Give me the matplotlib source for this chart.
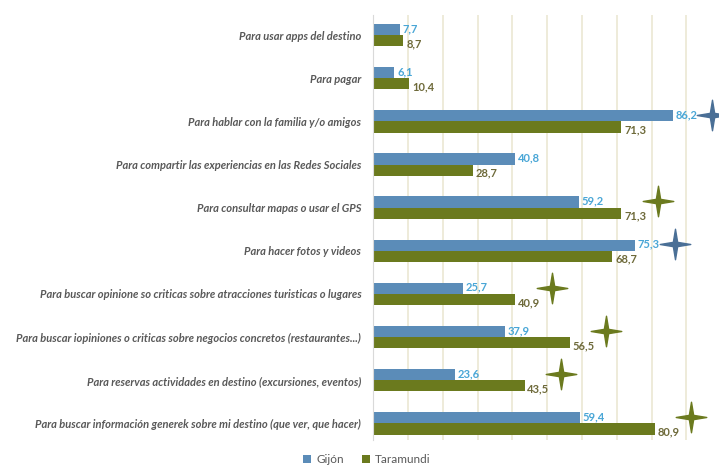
import matplotlib.pyplot as plt
from matplotlib.path import Path
import numpy as np

plt.rcParams["font.family"] = ["Lato", "DejaVu Sans"]

categorias = [
    "Para usar apps del destino",
    "Para pagar",
    "Para hablar con la familia y/o amigos",
    "Para compartir las experiencias en las Redes Sociales",
    "Para consultar mapas o usar el GPS",
    "Para hacer fotos y videos",
    "Para buscar opinione so criticas sobre atracciones turisticas o lugares",
    "Para buscar iopiniones o criticas sobre negocios concretos (restaurantes...)",
    "Para reservas actividades en destino (excursiones, eventos)",
    "Para buscar información generek sobre mi destino (que ver, que hacer)",
]
gijon = [7.7, 6.1, 86.2, 40.8, 59.2, 75.3, 25.7, 37.9, 23.6, 59.4]
taramundi = [8.7, 10.4, 71.3, 28.7, 71.3, 68.7, 40.9, 56.5, 43.5, 80.9]
# estrella: 'g' = Gijón, 't' = Taramundi, None = sin estrella
estrella = [None, None, "g", None, "t", "g", "t", "t", "t", "t"]

c_gij = "#5b8cb8"
c_tar = "#6b7a1e"

# marcador estrella de 4 puntas
ang = np.linspace(0, 2 * np.pi, 9)[:-1] + np.pi / 2
rad = np.array([1, 0.2] * 4)
verts = np.column_stack([rad * np.cos(ang), rad * np.sin(ang)])
verts = np.vstack([verts, verts[0]])
star = Path(verts, [Path.MOVETO] + [Path.LINETO] * 7 + [Path.CLOSEPOLY])

fig = plt.figure(figsize=(7.19, 4.76), dpi=100)
ax = fig.add_axes([0.519, 0.076, 0.484, 0.892])

y = np.arange(len(categorias))
h = 0.26
ax.barh(y - h / 2, gijon, height=h, color=c_gij, label="Gijón", zorder=2)
ax.barh(y + h / 2, taramundi, height=h, color=c_tar, label="Taramundi", zorder=2)

for i in range(len(categorias)):
    ax.text(gijon[i] + 0.8, y[i] - h * 0.6, f"{gijon[i]:.1f}".replace(".", ","),
            color="#49a6d6", fontsize=8, fontweight="bold", va="center", ha="left")
    ax.text(taramundi[i] + 0.8, y[i] + h * 0.75, f"{taramundi[i]:.1f}".replace(".", ","),
            color="#6e6a3a", fontsize=8, fontweight="bold", va="center", ha="left")
    if estrella[i] == "g":
        ax.plot(gijon[i] + 11.3, y[i] - 0.15, marker=star, markersize=22,
                color="#4a6f96", zorder=3, clip_on=False)
    elif estrella[i] == "t":
        ax.plot(taramundi[i] + 10.5, y[i] - 0.15, marker=star, markersize=22,
                color=c_tar, zorder=3, clip_on=False)

ax.set_xlim(0, 100)
ax.set_ylim(9.38, -0.46)
ax.set_xticks(np.arange(0, 101, 10))
ax.xaxis.grid(True, color="#ebe7d3", linewidth=1.2, zorder=0)
ax.tick_params(axis="x", bottom=False, labelbottom=False)
ax.tick_params(axis="y", left=False, pad=5)
ax.set_yticks(y)
ax.set_yticklabels(categorias, fontsize=8, style="italic", fontweight="bold",
                   color="#595959")
for s in ["top", "right", "bottom"]:
    ax.spines[s].set_visible(False)
ax.spines["left"].set_color("#d9d9d9")

fig.legend(loc="lower center", bbox_to_anchor=(0.51, 0.0), ncol=2, frameon=False,
           fontsize=8.5, handlelength=0.7, handleheight=0.7, handletextpad=0.4,
           columnspacing=1.5, labelcolor="#595959")

fig.savefig("out.png", dpi=100)
